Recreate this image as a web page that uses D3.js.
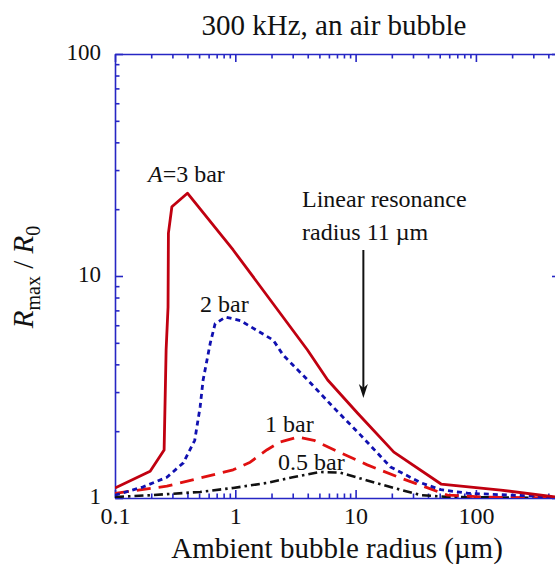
<!DOCTYPE html>
<html><head><meta charset="utf-8">
<script src="https://cdn.jsdelivr.net/npm/d3@7/dist/d3.min.js"></script>
<style>body{margin:0;background:#fff}svg{display:block}</style>
</head><body>
<script>
// ---- data ----
const xMajorTicks = [0.1, 1, 10, 100];
const yMajorTicks = [1, 10, 100];
const xTickLabels = ["0.1", "1", "10", "100"];
const yTickLabels = ["1", "10", "100"];

const s3x = [0.1, 0.196, 0.256, 0.266, 0.276, 0.278, 0.297, 0.4, 0.96, 3.98, 5.86, 10.4, 20.8, 51.3, 161, 460];
const s3y = [1.11, 1.32, 1.645, 4.64, 7.25, 15.6, 20.5, 23.6, 13.1, 4.64, 3.4, 2.41, 1.61, 1.156, 1.086, 1.01];

const s2x = [0.1, 0.17, 0.27, 0.37, 0.46, 0.51, 0.54, 0.62, 0.68, 0.83, 1.1, 2.07, 2.5, 4.0, 6.5, 11, 19.5, 35, 51, 86, 460];
const s2y = [1.03, 1.12, 1.24, 1.44, 1.82, 2.57, 3.4, 5.0, 6.1, 6.53, 6.3, 5.14, 4.4, 3.4, 2.57, 1.92, 1.38, 1.17, 1.09, 1.05, 1.01];

const s1x = [0.1, 0.27, 0.51, 0.96, 1.33, 1.84, 2.37, 3.3, 4.5, 6.6, 12.5, 23.7, 39.8, 58, 120, 460];
const s1y = [1.05, 1.13, 1.23, 1.34, 1.45, 1.65, 1.79, 1.88, 1.82, 1.65, 1.41, 1.23, 1.11, 1.03, 1.01, 1.0];

const s05x = [0.1, 0.2, 0.51, 0.96, 1.84, 3.0, 5.1, 7.5, 12.5, 20.8, 35, 60, 460];
const s05y = [1.01, 1.03, 1.065, 1.11, 1.17, 1.24, 1.31, 1.30, 1.2, 1.11, 1.03, 1.01, 1.0];

const seriesNames = ["A=3 bar", "2 bar", "1 bar", "0.5 bar"];
const resonanceRadius = 11.6;

// ---- layout ----
const W = 555, H = 570;
const L = 115, R = 560, T = 54, B = 498;
const axisColor = "#2626c4";
const FONT = "'Liberation Serif', 'Times New Roman', Times, 'DejaVu Serif', serif";

const svg = d3.select("body").append("svg").attr("width", W).attr("height", H);

const x = d3.scaleLog().domain([0.1, 500]).range([L, R]);
const y = d3.scaleLog().domain([1, 100]).range([B, T]);

function logTicks(lo, hi) {
  const out = [];
  for (let d = lo; d < hi; d *= 10) for (let k = 1; k < 10; k++) { const v = +(d * k).toPrecision(3); if (v <= hi) out.push(v); }
  out.push(hi);
  return out;
}
const xAll = logTicks(0.1, 1000).filter(v => v <= 500);
const yAll = logTicks(1, 100);
const isMajor = v => Math.abs(Math.log10(v) - Math.round(Math.log10(v))) < 1e-6;

// clip
svg.append("defs").append("clipPath").attr("id", "clip")
  .append("rect").attr("x", L).attr("y", T - 2).attr("width", R - L).attr("height", B - T + 2);

function styleAxis(g, minorLen, dir) {
  g.select(".domain").attr("stroke", axisColor).attr("stroke-width", 1.6);
  g.selectAll(".tick line").attr("stroke", axisColor).attr("stroke-width", 1.6);
  g.selectAll(".tick").filter(d => !isMajor(d)).select("line").each(function () {
    const el = d3.select(this);
    if (dir === "v") el.attr("y2", minorLen); else el.attr("x2", minorLen);
  });
  g.selectAll(".tick text").attr("fill", "#111");
}

// bottom
const gx = svg.append("g").attr("transform", `translate(0,${B})`)
  .call(d3.axisBottom(x).tickValues(xAll).tickSizeInner(-8).tickSizeOuter(0).tickPadding(9)
    .tickFormat(d => { const i = xMajorTicks.indexOf(d); return i >= 0 ? xTickLabels[i] : ""; }));
styleAxis(gx, -4.5, "v");
gx.selectAll(".tick text").attr("font-size", 24);

// top
const gt = svg.append("g").attr("transform", `translate(0,${T})`)
  .call(d3.axisTop(x).tickValues(xAll).tickSizeInner(-8).tickSizeOuter(0).tickFormat(""));
styleAxis(gt, 4.5, "v");

// left
const gy = svg.append("g").attr("transform", `translate(${L},0)`)
  .call(d3.axisLeft(y).tickValues(yAll).tickSizeInner(-8).tickSizeOuter(0).tickPadding(14)
    .tickFormat(d => { const i = yMajorTicks.indexOf(d); return i >= 0 ? yTickLabels[i] : ""; }));
styleAxis(gy, 4.5, "h");
gy.selectAll(".tick text").attr("font-size", 23).attr("dy", "0.24em");

// right
const gr = svg.append("g").attr("transform", `translate(${R},0)`)
  .call(d3.axisRight(y).tickValues(yAll).tickSizeInner(-8).tickSizeOuter(0).tickFormat(""));
styleAxis(gr, -4.5, "h");

// lines
const line = d3.line().x(d => x(d[0])).y(d => y(d[1]));
const zip = (a, b) => a.map((v, i) => [v, b[i]]);
const plot = svg.append("g").attr("clip-path", "url(#clip)");
const series = [
  { d: zip(s05x, s05y), c: "#111", w: 2.6, dash: "9,4,2.5,4" },
  { d: zip(s1x, s1y), c: "#e01010", w: 2.8, dash: "14,8" },
  { d: zip(s2x, s2y), c: "#1010b0", w: 2.8, dash: "5,4" },
  { d: zip(s3x, s3y), c: "#c00010", w: 2.8, dash: null }
];
series.forEach(s => {
  plot.append("path").attr("d", line(s.d)).attr("fill", "none").attr("stroke", s.c)
    .attr("stroke-width", s.w).attr("stroke-dasharray", s.dash).attr("stroke-linejoin", "round");
});

// series labels
const lab = svg.append("g").attr("font-size", 24).attr("fill", "#111");
const t3 = lab.append("text").attr("x", 148).attr("y", 182);
t3.append("tspan").attr("font-style", "italic").text("A");
t3.append("tspan").text(seriesNames[0].slice(1));
lab.append("text").attr("x", 200).attr("y", 312).text(seriesNames[1]);
lab.append("text").attr("x", 265).attr("y", 432).text(seriesNames[2]);
lab.append("text").attr("x", 278).attr("y", 470).text(seriesNames[3]);

lab.append("text").attr("x", 302).attr("y", 207).text("Linear resonance");
lab.append("text").attr("x", 302).attr("y", 240).text("radius 11 \u00b5m");

// arrow
const ax = x(resonanceRadius);
svg.append("line").attr("x1", ax).attr("x2", ax).attr("y1", 250).attr("y2", 388)
  .attr("stroke", "#111").attr("stroke-width", 2);
svg.append("path").attr("d", `M${ax - 4.5},384 L${ax},398 L${ax + 4.5},384 L${ax},388 Z`).attr("fill", "#111");

// title
svg.append("text").attr("x", 334).attr("y", 35).attr("text-anchor", "middle")
  .attr("font-size", 29).attr("fill", "#111").text("300 kHz, an air bubble");

// x axis title
svg.append("text").attr("x", 337).attr("y", 558).attr("text-anchor", "middle")
  .attr("font-size", 29).attr("fill", "#111").text("Ambient bubble radius (\u00b5m)");

// y axis title
const yt = svg.append("text").attr("transform", "translate(33,277) rotate(-90)")
  .attr("text-anchor", "middle").attr("font-size", 29).attr("fill", "#111");
yt.append("tspan").attr("font-style", "italic").text("R");
yt.append("tspan").attr("font-size", 20).attr("dy", 7).text("max");
yt.append("tspan").attr("dy", -7).text(" / ");
yt.append("tspan").attr("font-style", "italic").text("R");
yt.append("tspan").attr("font-size", 20).attr("dy", 7).text("0");

svg.selectAll("text").style("font-family", FONT);
</script>
</body></html>
